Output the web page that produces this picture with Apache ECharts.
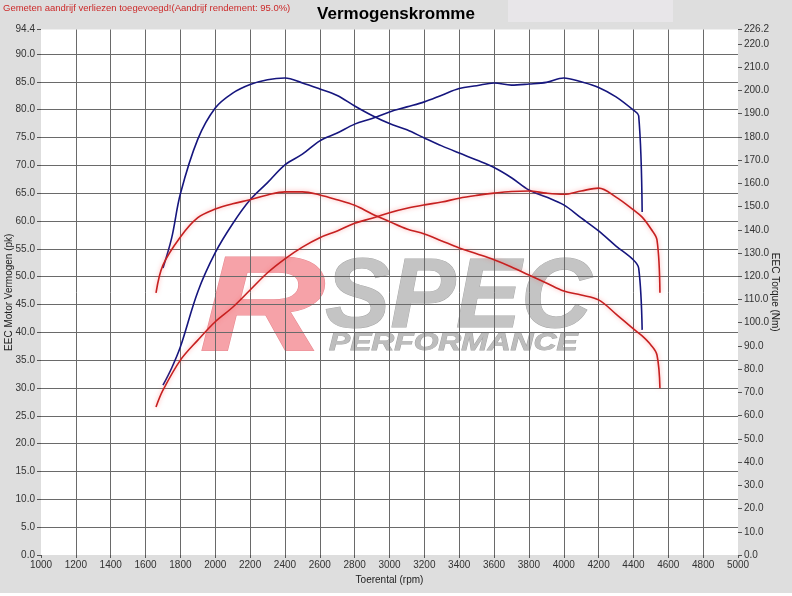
<!DOCTYPE html>
<html>
<head>
<meta charset="utf-8">
<script src="https://cdn.jsdelivr.net/npm/echarts@6/dist/echarts.min.js"></script>
<style>
  html, body { margin: 0; padding: 0; background: #dedede; }
  #chart { width: 792px; height: 596px; }
</style>
</head>
<body>
<div id="chart"></div>
<script>
// rpm values for each curve
const bluePowerRpm = [1700, 1750, 1800, 1900, 2000, 2100, 2200, 2300, 2400, 2500, 2600, 2700, 2800, 2900, 3000, 3100, 3200, 3300, 3400, 3500, 3600, 3700, 3800, 3900, 4000, 4100, 4200, 4300, 4400, 4430, 4450];
const bluePowerPk = [30.5, 33.6, 37.4, 47.3, 54.3, 59.5, 63.8, 66.9, 70.1, 72.0, 74.4, 75.8, 77.4, 78.4, 79.6, 80.5, 81.4, 82.6, 83.8, 84.3, 84.8, 84.4, 84.6, 84.9, 85.7, 85.0, 84.0, 82.3, 79.9, 78.9, 61.6];

const blueTorqueRpm = bluePowerRpm;
const blueTorqueNm = [123.5, 136.5, 155.5, 179.0, 192.4, 198.8, 202.5, 204.6, 205.3, 203.2, 200.6, 197.8, 193.3, 189.2, 185.7, 183.0, 179.5, 176.1, 173.0, 170.0, 166.8, 162.4, 157.1, 154.1, 150.7, 145.1, 139.5, 133.0, 127.0, 123.5, 96.9];

const redPowerRpm = [1660, 1700, 1800, 1900, 2000, 2100, 2200, 2300, 2400, 2500, 2600, 2700, 2800, 2900, 3000, 3100, 3200, 3300, 3400, 3500, 3600, 3700, 3800, 3900, 4000, 4100, 4200, 4300, 4400, 4450, 4500, 4535, 4552];
const redPowerPk = [26.6, 29.6, 35.0, 38.6, 41.9, 44.5, 47.6, 50.7, 53.2, 55.3, 57.0, 58.2, 59.6, 60.5, 61.5, 62.3, 62.9, 63.4, 64.1, 64.6, 65.0, 65.3, 65.4, 65.0, 64.8, 65.4, 65.9, 64.3, 62.0, 60.7, 58.6, 56.6, 47.1];

const redTorqueRpm = redPowerRpm;
const redTorqueNm = [112.8, 124.8, 136.9, 145.2, 148.9, 151.2, 152.9, 155.0, 156.3, 156.3, 155.0, 152.9, 150.5, 146.8, 143.5, 140.3, 138.2, 135.2, 132.2, 129.7, 127.1, 124.0, 120.5, 117.1, 113.6, 111.9, 109.8, 103.7, 97.3, 94.3, 90.4, 86.1, 71.9];

const powerMax = 94.4;
const torqueMax = 226.2;

const font = 'Liberation Sans, Arial, sans-serif';
const blue = '#16167e';
const red = '#c62020';

function pairs(xs, ys) {
  return xs.map((x, i) => [x, ys[i]]);
}

function curve(name, axis, color, data, glow) {
  return {
    name,
    type: 'line',
    yAxisIndex: axis,
    data,
    smooth: 0.35,
    symbol: 'none',
    lineStyle: {
      width: 1.6,
      color,
      shadowColor: glow ? 'rgba(255,90,90,0.55)' : 'transparent',
      shadowBlur: glow ? 4 : 0,
    },
  };
}

const fmt = v => v.toFixed(1);

const option = {
  backgroundColor: '#dedede',
  animation: false,
  title: {
    text: 'Vermogenskromme',
    left: 'center',
    top: 1,
    textStyle: { fontFamily: font, fontSize: 17, fontWeight: 'bold', color: '#000' },
  },
  grid: { left: 41, right: 54, top: 29.5, bottom: 41, show: false, containLabel: false, outerBoundsMode: 'none' },
  xAxis: {
    type: 'value',
    min: 1000,
    max: 5000,
    interval: 200,
    name: 'Toerental (rpm)',
    nameLocation: 'middle',
    nameGap: 20,
    nameTextStyle: { fontFamily: font, fontSize: 10, color: '#222' },
    axisLine: { show: false },
    axisTick: { show: true, length: 3, lineStyle: { color: '#555' } },
    axisLabel: { fontFamily: font, fontSize: 10, color: '#333', margin: 5, formatter: v => String(v) },
    splitLine: { show: true, showMinLine: false, showMaxLine: false, lineStyle: { color: '#6a6a6a', width: 1 } },
  },
  yAxis: [
    {
      type: 'value',
      position: 'left',
      min: 0,
      max: powerMax,
      interval: 5,
      name: 'EEC Motor Vermogen (pk)',
      nameLocation: 'middle',
      nameGap: 27,
      nameMoveOverlap: false,
      nameTextStyle: { fontFamily: font, fontSize: 10, color: '#222' },
      axisLine: { show: false },
      axisTick: { show: true, length: 4, lineStyle: { color: '#555' } },
      axisLabel: { fontFamily: font, fontSize: 10, color: '#333', margin: 6, formatter: fmt },
      splitLine: { show: true, showMinLine: false, showMaxLine: false, lineStyle: { color: '#6a6a6a', width: 1 } },
    },
    {
      type: 'value',
      position: 'right',
      min: 0,
      max: torqueMax,
      interval: 10,
      name: 'EEC Torque (Nm)',
      nameLocation: 'middle',
      nameGap: 32,
      nameRotate: -90,
      nameMoveOverlap: false,
      nameTextStyle: { fontFamily: font, fontSize: 10, color: '#222' },
      axisLine: { show: false },
      axisTick: { show: true, length: 4, lineStyle: { color: '#555' } },
      axisLabel: { fontFamily: font, fontSize: 10, color: '#333', margin: 6, formatter: fmt },
      splitLine: { show: false },
    },
  ],
  graphic: [
    // lighter title box and plot background
    { type: 'rect', z: -3, shape: { x: 508, y: 0, width: 165, height: 22 }, style: { fill: '#e8e6e9' } },
    { type: 'rect', z: -3, shape: { x: 41, y: 29.5, width: 697, height: 525.5 }, style: { fill: '#ffffff' } },
    { type: 'rect', z: -3, shape: { x: 0, y: 593, width: 792, height: 3 }, style: { fill: '#ffffff' } },
    {
      type: 'text', z: 5, x: 3, y: 3,
      style: { text: 'Gemeten aandrijf verliezen toegevoegd!(Aandrijf rendement: 95.0%)', fontFamily: font, fontSize: 9.5, fill: '#cc2a2a' },
    },
    // watermark logo
    {
      type: 'text', z: -1, x: 199, y: 245, scaleX: 1.3, originX: 0, originY: 0,
      style: { text: 'R', fontFamily: font, fontSize: 135, fontWeight: 'bold', fontStyle: 'italic', fill: '#f6a2a8', stroke: '#e88c93', lineWidth: 1 },
    },
    {
      type: 'text', z: -1, x: 325, y: 251, scaleX: 1.0, originX: 0, originY: 0,
      style: { text: 'SPEC', fontFamily: font, fontSize: 98, fontWeight: 'bold', fontStyle: 'italic', fill: '#c4c4c4', stroke: '#a9a9a9', lineWidth: 1 },
    },
    {
      type: 'text', z: -1, x: 329, y: 332, scaleX: 1.38, originX: 0, originY: 0,
      style: { text: 'PERFORMANCE', fontFamily: font, fontSize: 23, fontWeight: 'bold', fontStyle: 'italic', fill: '#bdbdbd', stroke: '#a4a4a4', lineWidth: 0.8 },
    },
  ],
  series: [
    curve('Vermogen na', 0, blue, pairs(bluePowerRpm, bluePowerPk), false),
    curve('Koppel na', 1, blue, pairs(blueTorqueRpm, blueTorqueNm), false),
    curve('Vermogen voor', 0, red, pairs(redPowerRpm, redPowerPk), true),
    curve('Koppel voor', 1, red, pairs(redTorqueRpm, redTorqueNm), true),
  ],
};

const chart = echarts.init(document.getElementById('chart'), null, { renderer: 'canvas' });
chart.setOption(option);
</script>
</body>
</html>
